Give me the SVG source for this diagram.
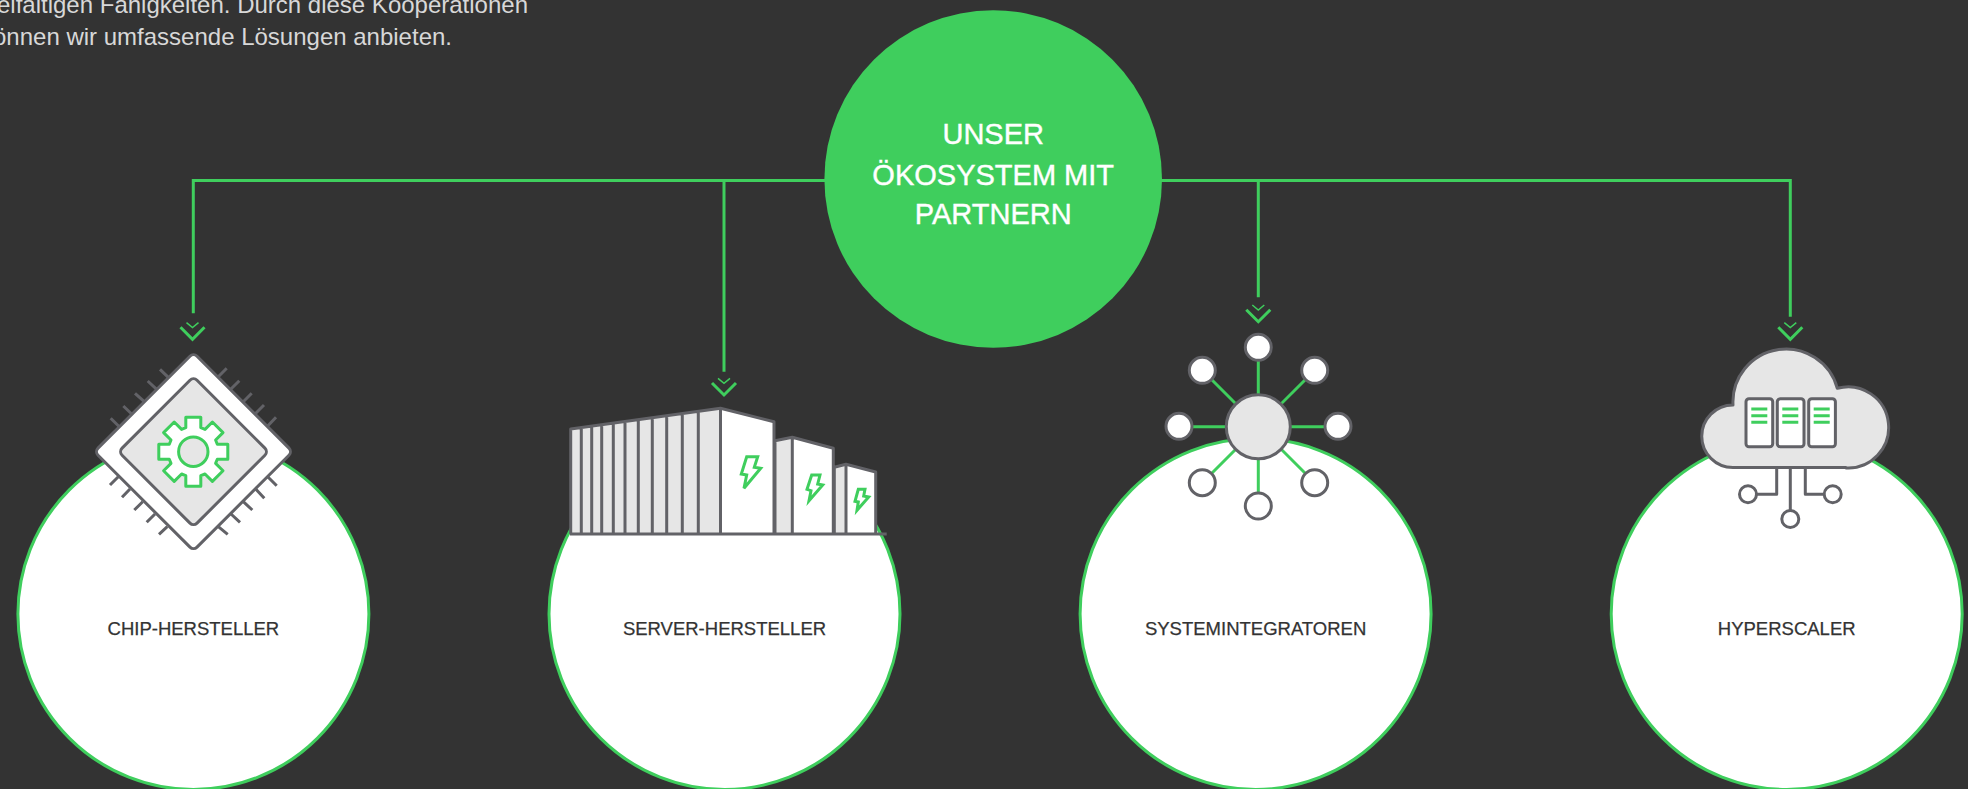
<svg xmlns="http://www.w3.org/2000/svg" width="1968" height="789" viewBox="0 0 1968 789">
<defs>
<style>
text{font-family:"Liberation Sans",Arial,sans-serif}
.c{fill:#fff;stroke:#3fce5d;stroke-width:3}
.l{font-size:18.500px;fill:#333;text-anchor:middle;stroke:#333;stroke-width:.25}
.g{fill:none;stroke:#3fce5d;stroke-width:3}
.gt{fill:none;stroke:#3fce5d;stroke-width:1.500}
.o{stroke:#626267;stroke-width:3;stroke-linejoin:round}
.t{font-size:24px;fill:#d8d8d8;text-anchor:end}
.h{font-size:29px;fill:#fff;text-anchor:middle;stroke:#fff;stroke-width:.4}
</style>
<g id="chev"><path class="gt" d="M-6 -16.700L0 -11.700L6 -16.700"/><path class="g" d="M-12 -12L0 0L12 -12"/></g>
</defs>
<rect width="1968" height="789" fill="#333"/>
<text class="t" x="528" y="12.700">elfältigen Fähigkeiten. Durch diese Kooperationen</text>
<text class="t" x="452" y="45">önnen wir umfassende Lösungen anbieten.</text>
<g id="connectors">
<path class="g" d="M193.300 313.300V180.500H1790.300V316.700M724 180.500V371.700M1258.300 180.500V297.300"/>
<use href="#chev" x="192.500" y="339.300"/><use href="#chev" x="724" y="395"/><use href="#chev" x="1258.300" y="321.700"/><use href="#chev" x="1790.300" y="339.300"/>
</g>
<g id="hub"><circle cx="993.200" cy="179" r="168.800" fill="#3fce5d"/>
<text class="h" x="993.200" y="144">UNSER</text><text class="h" x="993.200" y="185">ÖKOSYSTEM MIT</text><text class="h" x="993.200" y="224">PARTNERN</text></g>
<g id="chip"><circle class="c" cx="193.400" cy="614" r="175.500"/><text class="l" x="193.400" y="635">CHIP-HERSTELLER</text>
<path class="o" fill="none" d="M119.300 426.700L110.700 418.300M131.700 414L123.300 406M144.300 401.700L135 393.300M156.700 389.300L147.700 381M168.300 377.300L160 369.300M218.300 376.700L226.700 368.300M230.700 389.300L239.300 380.700M243.300 401.700L251.700 393.300M255 414L264 405M267.700 426L276 417.300M118.300 476.700L110 485M130 489L122 497.300M142.700 501.700L134.300 510M155 514L146.700 522.300M167.300 526.700L159 534.300M218.300 526.700L227.700 534.300M231 514L240 522.300M243.300 501.700L252.300 510M255.700 489L264.300 498.300M267.700 476.700L276.700 485.700"/>
<rect class="o" fill="#fff" x="-70" y="-70" width="140" height="140" rx="5" transform="translate(193.500 451.700) rotate(45)"/>
<rect class="o" fill="#e6e6e6" x="-53" y="-53" width="106" height="106" rx="5" transform="translate(193.500 451.700) rotate(45)"/>
<g transform="translate(193.300 451.700)"><path class="g" stroke-linejoin="round" style="fill:#fff" d="M-7.500 -34.500H7.500V-24L11.700 -22.300L19.100 -29.700L29.700 -19.100L22.300 -11.700L24 -7.500H34.500V7.500H24L22.300 11.700L29.700 19.100L19.100 29.700L11.700 22.300L7.500 24V34.500H-7.500V24L-11.700 22.300L-19.100 29.700L-29.700 19.100L-22.300 11.700L-24 7.500H-34.500V-7.500H-24L-22.300 -11.700L-29.700 -19.100L-19.100 -29.700L-11.700 -22.300L-7.500 -24Z"/>
<circle class="g" r="14.700" style="fill:#e6e6e6"/></g></g>
<g id="server"><circle class="c" cx="724.500" cy="614" r="175.500"/><text class="l" x="724.500" y="635">SERVER-HERSTELLER</text>
<path fill="#e6e6e6" d="M570.700 429L720.500 408.300V534H570.700Z"/><path fill="#fff" d="M720.500 408.300L774 421.700V534H720.500Z"/>
<path fill="#e6e6e6" d="M775 440.700L792.300 437.300V534H775Z"/><path fill="#fff" d="M792.300 437.300L833.300 448.300V534H792.300Z"/>
<path fill="#e6e6e6" d="M834.300 467.300L846 464.300V534H834.300Z"/><path fill="#fff" d="M846 464.300L875.700 472V534H846Z"/>
<path class="o" fill="none" d="M570.700 534V429L720.500 408.300L774 421.700V534M720.500 408.300V534M581.300 428V534M591.700 426V534M601.700 425V534M613.300 423V534M625 422V534M638.300 420V534M652.300 418V534M666.700 416V534M682.300 414V534M698.300 411V534M775 534V440.700L792.300 437.300L833.300 448.300V534M792.300 437.300V534M834.300 534V467.300L846 464.300L875.700 472V534M846 464.300V534M570 534H886.700"/>
<path class="g" d="M746.700 456.700H757.700L754.300 467.300L760.700 468.300L744 488.300L746.700 475L741.300 474Z"/>
<path class="g" d="M811.700 475H820L817.700 484L822.700 485L809 500.700L811 490.700L807 489.300Z"/>
<path class="g" stroke-width="2.500" d="M858.300 489.300H865L863.700 496L868.700 497L857 510.300L858.300 502L855 501.300Z"/></g>
<g id="integrator"><circle class="c" cx="1255.600" cy="614" r="175.500"/><text class="l" x="1255.600" y="635">SYSTEMINTEGRATOREN</text>
<path class="g" d="M1258.300 347V506M1179 426.700H1338M1202.300 370.300L1314.700 482.700M1314.700 370.300L1202.300 482.700"/>
<circle class="o" fill="#e6e6e6" cx="1258.300" cy="426.700" r="32"/>
<g fill="#fff"><circle class="o" cx="1258.300" cy="347.300" r="13"/><circle class="o" cx="1202.300" cy="370.300" r="13"/><circle class="o" cx="1314.700" cy="370.300" r="13"/><circle class="o" cx="1179" cy="426.300" r="13"/><circle class="o" cx="1338" cy="426.300" r="13"/><circle class="o" cx="1202.300" cy="482.700" r="13"/><circle class="o" cx="1314.700" cy="482.700" r="13"/><circle class="o" cx="1258.300" cy="506" r="13"/></g></g>
<g id="hyperscaler"><circle class="c" cx="1786.700" cy="614" r="175.500"/><text class="l" x="1786.700" y="635">HYPERSCALER</text>
<path class="o" fill="none" d="M1776.700 468V494.300H1757M1790.300 468V510M1805.300 468V494.300H1824"/>
<circle class="o" fill="#fff" cx="1748" cy="494.300" r="8.500"/><circle class="o" fill="#fff" cx="1832.700" cy="494.300" r="8.500"/><circle class="o" fill="#fff" cx="1790.300" cy="519" r="8.500"/>
<path class="o" fill="#e6e6e6" d="M1733 467.500A31.250 31.250 0 0 1 1733 405A53.100 53.100 0 0 1 1837.300 388.300A40.600 40.600 0 1 1 1846 468L1846 467.500Z"/>
<g fill="#fff"><rect class="o" x="1746" y="398.700" width="26.700" height="48" rx="3"/><rect class="o" x="1777.300" y="398.700" width="26.700" height="48" rx="3"/><rect class="o" x="1808.700" y="398.700" width="26.700" height="48" rx="3"/></g>
<path class="g" d="M1751.300 409H1767.300M1751.300 415.700H1767.300M1751.300 422.300H1767.300M1782.300 409H1798.300M1782.300 415.700H1798.300M1782.300 422.300H1798.300M1813.700 409H1829.700M1813.700 415.700H1829.700M1813.700 422.300H1829.700"/></g>
</svg>
